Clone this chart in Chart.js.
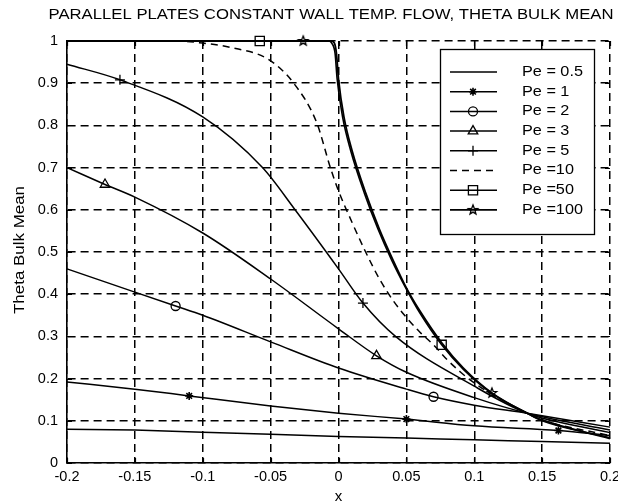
<!DOCTYPE html>
<html>
<head>
<meta charset="utf-8">
<script src="https://cdn.jsdelivr.net/npm/chart.js@4/dist/chart.umd.min.js"></script>
<style>
  html, body { margin: 0; padding: 0; background: #fff; }
  #wrap { width: 618px; height: 504px; }
</style>
</head>
<body>
<div id="wrap"><canvas id="chart" width="618" height="504"></canvas></div>
<script>
// data
const labels = ['Pe = 0.5', 'Pe = 1', 'Pe = 2', 'Pe = 3', 'Pe = 5', 'Pe =10', 'Pe =50', 'Pe =100'];

const pe05X = [-0.2, -0.15, -0.1, -0.05, 0, 0.05, 0.1, 0.15, 0.2];
const pe05Y = [0.080, 0.078, 0.073, 0.068, 0.063, 0.059, 0.055, 0.051, 0.047];

const pe1X = [-0.2, -0.15, -0.11, -0.05, 0, 0.05, 0.1, 0.162, 0.2];
const pe1Y = [0.192, 0.175, 0.159, 0.135, 0.118, 0.104, 0.088, 0.077, 0.065];
const pe1Marks = [-0.11, 0.05, 0.162];

const pe2X = [-0.2, -0.15, -0.12, -0.1, -0.05, 0, 0.05, 0.07, 0.1, 0.139, 0.2];
const pe2Y = [0.46, 0.405, 0.372, 0.35, 0.287, 0.225, 0.175, 0.157, 0.137, 0.118, 0.085];
const pe2Marks = [-0.12, 0.07];

const pe3X = [-0.2, -0.172, -0.15, -0.1, -0.05, 0, 0.028, 0.05, 0.1, 0.139, 0.2];
const pe3Y = [0.70, 0.66, 0.63, 0.545, 0.436, 0.318, 0.254, 0.215, 0.155, 0.118, 0.078];
const pe3Marks = [-0.172, 0.028];

const pe5X = [-0.2, -0.161, -0.1, -0.056, -0.032, 0, 0.018, 0.042, 0.1, 0.139, 0.2];
const pe5Y = [0.945, 0.908, 0.82, 0.70, 0.60, 0.46, 0.379, 0.30, 0.182, 0.118, 0.072];
const pe5Marks = [-0.161, 0.018];

const pe10X = [-0.2, -0.12, -0.1, -0.08, -0.052, -0.033, -0.016, -0.006, 0, 0.01, 0.02, 0.03, 0.04, 0.05, 0.06, 0.07, 0.08, 0.09, 0.1, 0.113, 0.139, 0.15, 0.2];
const pe10Y = [1, 1, 0.995, 0.985, 0.957, 0.90, 0.806, 0.70, 0.645, 0.57, 0.50, 0.437, 0.386, 0.345, 0.31, 0.28, 0.245, 0.215, 0.19, 0.163, 0.118, 0.102, 0.065];

const pe50X = [-0.2, -0.058, -0.007, -0.005, -0.0025, -0.001, 0.003, 0.009, 0.019, 0.029, 0.039, 0.05, 0.06, 0.076, 0.092, 0.113, 0.139, 0.15, 0.2];
const pe50Y = [1, 1, 1, 0.995, 0.97, 0.91, 0.82, 0.74, 0.64, 0.555, 0.482, 0.412, 0.355, 0.28, 0.222, 0.165, 0.118, 0.1, 0.06];
const pe50Marks = [-0.058, 0.076];

const pe100X = [-0.2, -0.1, -0.026, -0.005, -0.003, -0.0015, 0, 0.004, 0.01, 0.02, 0.03, 0.04, 0.05, 0.06, 0.076, 0.092, 0.113, 0.139, 0.15, 0.2];
const pe100Y = [1, 1, 1, 1, 0.995, 0.97, 0.91, 0.82, 0.74, 0.64, 0.555, 0.482, 0.415, 0.36, 0.285, 0.225, 0.166, 0.118, 0.102, 0.058];
const pe100Marks = [-0.026, 0.113];

const FONT = '"Liberation Sans", Arial, Helvetica, sans-serif';

// pentagram marker like matlab 'p'
function makePentagram(r) {
    const c = document.createElement('canvas');
    const s = Math.ceil(r * 2 + 4);
    c.width = s; c.height = s;
    const g = c.getContext('2d');
    g.beginPath();
    for (let i = 0; i < 10; i++) {
        const rr = i % 2 === 0 ? r : r * 0.42;
        const a = -Math.PI / 2 + i * Math.PI / 5;
        const px = s / 2 + rr * Math.cos(a), py = s / 2 + rr * Math.sin(a);
        if (i === 0) g.moveTo(px, py); else g.lineTo(px, py);
    }
    g.closePath();
    g.lineWidth = 1.3;
    g.strokeStyle = '#000';
    g.stroke();
    return c;
}
const pentagram = makePentagram(5);

function pts(xs, ys) {
    return xs.map((x, i) => ({ x: x, y: ys[i] }));
}
function radii(xs, marks, r) {
    return xs.map(x => (marks.includes(x) ? r : 0));
}

function series(label, xs, ys, marks, style, r, extra) {
    return Object.assign({
        label: label,
        data: pts(xs, ys),
        borderColor: '#000',
        borderWidth: 1.5,
        pointStyle: style,
        pointRadius: radii(xs, marks, r),
        pointBorderColor: '#000',
        pointBackgroundColor: 'rgba(0,0,0,0)',
        pointBorderWidth: 1.3,
        cubicInterpolationMode: 'monotone',
        clip: 8
    }, extra || {});
}

const datasets = [
    series(labels[0], pe05X, pe05Y, [], 'circle', 0),
    series(labels[1], pe1X, pe1Y, pe1Marks, 'star', 4, { pointBorderWidth: 1.6 }),
    series(labels[2], pe2X, pe2Y, pe2Marks, 'circle', 4.5),
    series(labels[3], pe3X, pe3Y, pe3Marks, 'triangle', 5.5),
    series(labels[4], pe5X, pe5Y, pe5Marks, 'cross', 5),
    series(labels[5], pe10X, pe10Y, [], 'circle', 0, { borderDash: [7, 5] }),
    series(labels[6], pe50X, pe50Y, pe50Marks, 'rect', 6.5, { borderWidth: 1.6 }),
    series(labels[7], pe100X, pe100Y, pe100Marks, pentagram, 5, { borderWidth: 1.8 })
];

function stretchText(ctx, text, x, y, scale) {
    ctx.save();
    ctx.translate(x, y);
    ctx.scale(scale, 1);
    ctx.fillText(text, 0, 0);
    ctx.restore();
}

// title, y label, inner ticks and legend drawn by hand
const decor = {
    id: 'decor',
    afterDraw(chart) {
        const ctx = chart.ctx;
        const area = chart.chartArea;
        const xs = chart.scales.x, ys = chart.scales.y;

        ctx.save();
        ctx.fillStyle = '#000';
        ctx.textBaseline = 'middle';

        // title
        ctx.font = '15px ' + FONT;
        const title = 'PARALLEL PLATES CONSTANT WALL TEMP. FLOW, THETA BULK MEAN';
        const tw = ctx.measureText(title).width;
        ctx.textAlign = 'left';
        stretchText(ctx, title, 331 - 565 / 2, 15, 565 / tw);

        // y label
        const yl = 'Theta Bulk Mean';
        ctx.font = '14px ' + FONT;
        ctx.save();
        ctx.translate(20, 250);
        ctx.rotate(-Math.PI / 2);
        const yw = ctx.measureText(yl).width;
        ctx.scale(128 / yw, 1);
        ctx.textAlign = 'center';
        ctx.fillText(yl, 0, 0);
        ctx.restore();

        // inner tick marks on all four sides
        ctx.strokeStyle = '#000';
        ctx.lineWidth = 1.2;
        ctx.setLineDash([]);
        xs.ticks.forEach(t => {
            const px = Math.round(xs.getPixelForValue(t.value)) + 0.5;
            ctx.beginPath();
            ctx.moveTo(px, area.top); ctx.lineTo(px, area.top + 5);
            ctx.moveTo(px, area.bottom); ctx.lineTo(px, area.bottom - 5);
            ctx.stroke();
        });
        ys.ticks.forEach(t => {
            const py = Math.round(ys.getPixelForValue(t.value)) + 0.5;
            ctx.beginPath();
            ctx.moveTo(area.right, py); ctx.lineTo(area.right - 5, py);
            ctx.moveTo(area.left, py); ctx.lineTo(area.left + 5, py);
            ctx.stroke();
        });

        // legend box
        const bx = 440.5, by = 49.5, bw = 154, bh = 185;
        ctx.fillStyle = '#fff';
        ctx.fillRect(bx, by, bw, bh);
        ctx.strokeStyle = '#000';
        ctx.lineWidth = 1.3;
        ctx.strokeRect(bx, by, bw, bh);

        ctx.font = '14px ' + FONT;
        ctx.textAlign = 'left';
        chart.data.datasets.forEach((ds, i) => {
            const ly = 72 + i * 19.7;
            ctx.save();
            ctx.strokeStyle = '#000';
            ctx.lineWidth = ds.borderWidth;
            ctx.setLineDash(ds.borderDash || []);
            ctx.beginPath();
            ctx.moveTo(450, ly); ctx.lineTo(497, ly);
            ctx.stroke();
            ctx.setLineDash([]);
            const r = Math.max.apply(null, ds.pointRadius);
            if (r > 0 && Chart.helpers && Chart.helpers.drawPoint) {
                ctx.fillStyle = 'rgba(0,0,0,0)';
                ctx.lineWidth = ds.pointBorderWidth;
                Chart.helpers.drawPoint(ctx, {
                    pointStyle: ds.pointStyle, radius: r, rotation: 0, borderWidth: ds.pointBorderWidth
                }, 473, ly);
            }
            ctx.restore();
            ctx.fillStyle = '#000';
            stretchText(ctx, ds.label, 522, ly, 1.16);
        });
        ctx.restore();
    }
};

const tickFmt = v => String(Number(v.toFixed(2)));

new Chart(document.getElementById('chart'), {
    type: 'line',
    data: { datasets: datasets },
    options: {
        responsive: false,
        animation: false,
        layout: { padding: { top: 41, right: 8, left: 0, bottom: 0 } },
        plugins: {
            legend: { display: false },
            title: { display: false },
            tooltip: { enabled: false }
        },
        scales: {
            x: {
                type: 'linear',
                min: -0.2,
                max: 0.2,
                afterFit(s) { s.height = 41; s.paddingLeft = 0; s.paddingRight = 0; },
                ticks: {
                    stepSize: 0.05,
                    color: '#000',
                    padding: 5,
                    maxRotation: 0,
                    font: { family: FONT, size: 14.5 },
                    callback: tickFmt
                },
                grid: { color: '#000', lineWidth: 1.5, drawTicks: false },
                border: { display: true, color: '#000', width: 1.6, dash: [8, 5] },
                title: { display: true, text: 'x', color: '#000', font: { family: FONT, size: 15, lineHeight: 1 }, padding: { top: 0, bottom: 0 } }
            },
            y: {
                type: 'linear',
                min: 0,
                max: 1,
                afterFit(s) { s.width = 67; s.paddingTop = 0; s.paddingBottom = 0; },
                ticks: {
                    stepSize: 0.1,
                    color: '#000',
                    padding: 9,
                    font: { family: FONT, size: 14.5 },
                    callback: tickFmt
                },
                grid: { color: '#000', lineWidth: 1.5, drawTicks: false },
                border: { display: true, color: '#000', width: 1.6, dash: [8, 5] }
            }
        }
    },
    plugins: [decor]
});
</script>
</body>
</html>
